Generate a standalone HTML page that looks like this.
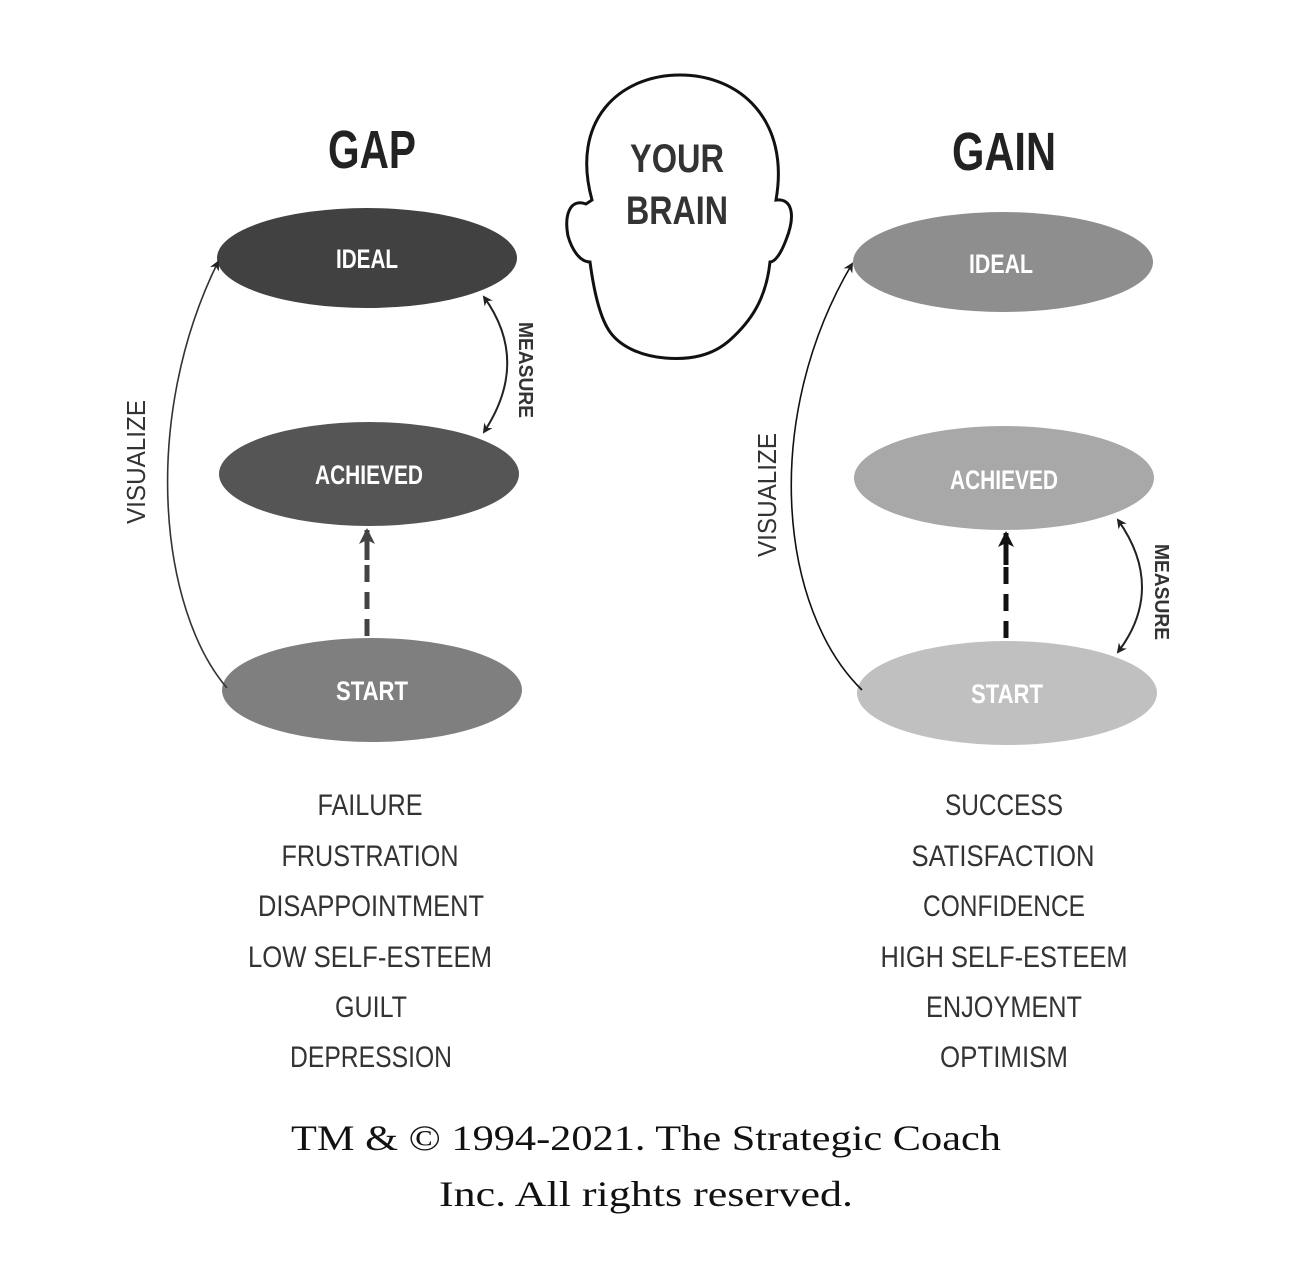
<!DOCTYPE html>
<html><head><meta charset="utf-8"><style>body{margin:0;background:#fff}svg{display:block}</style></head>
<body>
<svg width="1292" height="1279" viewBox="0 0 1292 1279" xmlns="http://www.w3.org/2000/svg">
<defs>
<marker id="ah" markerWidth="10" markerHeight="10" refX="8" refY="5" orient="auto" markerUnits="userSpaceOnUse"><path d="M0,0 L10,5 L0,10 L3,5 z" fill="#222"/></marker>
<marker id="ahs" markerWidth="10" markerHeight="10" refX="8" refY="5" orient="auto-start-reverse" markerUnits="userSpaceOnUse"><path d="M0,0 L10,5 L0,10 L3,5 z" fill="#222"/></marker>
<marker id="ahb" markerWidth="18" markerHeight="18" refX="14" refY="9" orient="auto" markerUnits="userSpaceOnUse"><path d="M0,1 L16,9 L0,17 L4,9 z" fill="#444"/></marker>
<marker id="ahk" markerWidth="18" markerHeight="18" refX="14" refY="9" orient="auto" markerUnits="userSpaceOnUse"><path d="M0,1 L16,9 L0,17 L4,9 z" fill="#111"/></marker>
</defs>
<g font-family="'Liberation Sans Narrow','Liberation Sans',sans-serif" text-anchor="middle">
<path d="M592,200 C570,120 620,75 680,75 C740,75 790,120 776,200 C792,198 796,215 786,240 C780,256 774,262 770,262 C766,300 750,322 730,340 C712,356 690,360 665,358 C640,356 620,346 610,332 C600,318 594,292 590,262 C580,262 572,250 568,236 C564,215 570,198 586,204 Z" fill="none" stroke="#111" stroke-width="3"/>
<text x="677" y="172" font-size="40" font-weight="bold" fill="#333" textLength="94" lengthAdjust="spacingAndGlyphs">YOUR</text>
<text x="677" y="224" font-size="40" font-weight="bold" fill="#333" textLength="102" lengthAdjust="spacingAndGlyphs">BRAIN</text>
<text x="372" y="168" font-size="54" font-weight="bold" fill="#222" textLength="88" lengthAdjust="spacingAndGlyphs">GAP</text>
<ellipse cx="367" cy="258" rx="150" ry="50" fill="#414141"/>
<ellipse cx="369" cy="474" rx="150" ry="52" fill="#555"/>
<ellipse cx="372" cy="690" rx="150" ry="52" fill="#7f7f7f"/>
<g font-weight="bold" font-size="27" fill="#fff">
<text x="367" y="268" textLength="62" lengthAdjust="spacingAndGlyphs">IDEAL</text>
<text x="369" y="484" textLength="108" lengthAdjust="spacingAndGlyphs">ACHIEVED</text>
<text x="372" y="700" textLength="72" lengthAdjust="spacingAndGlyphs">START</text>
<text x="1001" y="273" textLength="64" lengthAdjust="spacingAndGlyphs">IDEAL</text>
<text x="1004" y="489" textLength="108" lengthAdjust="spacingAndGlyphs">ACHIEVED</text>
<text x="1007" y="703" textLength="72" lengthAdjust="spacingAndGlyphs">START</text>
</g>
<path d="M227,688 C160,610 140,420 218,262" fill="none" stroke="#333" stroke-width="1.6" marker-end="url(#ah)"/>
<path d="M484,297 C515,340 515,385 484,432" fill="none" stroke="#222" stroke-width="2" marker-start="url(#ahs)" marker-end="url(#ah)"/>
<line x1="367" y1="636" x2="367" y2="540" stroke="#444" stroke-width="5" stroke-dasharray="17,10"/>
<line x1="367" y1="560" x2="367" y2="530" stroke="#444" stroke-width="5" marker-end="url(#ahb)"/>
<text transform="translate(145,462) rotate(-90)" font-size="26" fill="#333" textLength="124" lengthAdjust="spacingAndGlyphs">VISUALIZE</text>
<text transform="translate(519,370) rotate(90)" font-size="20" font-weight="bold" fill="#333" textLength="96" lengthAdjust="spacingAndGlyphs">MEASURE</text>
<text x="1004" y="170" font-size="54" font-weight="bold" fill="#222" textLength="104" lengthAdjust="spacingAndGlyphs">GAIN</text>
<ellipse cx="1003" cy="262" rx="150" ry="50" fill="#8e8e8e"/>
<ellipse cx="1004" cy="478" rx="150" ry="52" fill="#a8a8a8"/>
<ellipse cx="1007" cy="693" rx="150" ry="52" fill="#c0c0c0"/>
<g font-weight="bold" font-size="27" fill="#fff">
<text x="1001" y="273" textLength="64" lengthAdjust="spacingAndGlyphs">IDEAL</text>
<text x="1004" y="489" textLength="108" lengthAdjust="spacingAndGlyphs">ACHIEVED</text>
<text x="1007" y="703" textLength="72" lengthAdjust="spacingAndGlyphs">START</text>
</g>
<path d="M862,690 C780,610 760,420 852,264" fill="none" stroke="#111" stroke-width="1.6" marker-end="url(#ah)"/>
<path d="M1118,520 C1150,565 1150,610 1118,652" fill="none" stroke="#222" stroke-width="2" marker-start="url(#ahs)" marker-end="url(#ah)"/>
<line x1="1006" y1="638" x2="1006" y2="545" stroke="#111" stroke-width="5" stroke-dasharray="17,10"/>
<line x1="1006" y1="565" x2="1006" y2="533" stroke="#111" stroke-width="5" marker-end="url(#ahk)"/>
<text transform="translate(776,495) rotate(-90)" font-size="26" fill="#333" textLength="124" lengthAdjust="spacingAndGlyphs">VISUALIZE</text>
<text transform="translate(1155,592) rotate(90)" font-size="20" font-weight="bold" fill="#333" textLength="96" lengthAdjust="spacingAndGlyphs">MEASURE</text>
<g font-size="30" fill="#333" lengthAdjust="spacingAndGlyphs">
<text x="370" y="815" textLength="105" lengthAdjust="spacingAndGlyphs">FAILURE</text>
<text x="370" y="866" textLength="177" lengthAdjust="spacingAndGlyphs">FRUSTRATION</text>
<text x="371" y="916" textLength="226" lengthAdjust="spacingAndGlyphs">DISAPPOINTMENT</text>
<text x="370" y="967" textLength="244" lengthAdjust="spacingAndGlyphs">LOW SELF-ESTEEM</text>
<text x="371" y="1017" textLength="72" lengthAdjust="spacingAndGlyphs">GUILT</text>
<text x="371" y="1067" textLength="162" lengthAdjust="spacingAndGlyphs">DEPRESSION</text>
<text x="1004" y="815" textLength="118" lengthAdjust="spacingAndGlyphs">SUCCESS</text>
<text x="1003" y="866" textLength="183" lengthAdjust="spacingAndGlyphs">SATISFACTION</text>
<text x="1004" y="916" textLength="162" lengthAdjust="spacingAndGlyphs">CONFIDENCE</text>
<text x="1004" y="967" textLength="247" lengthAdjust="spacingAndGlyphs">HIGH SELF-ESTEEM</text>
<text x="1004" y="1017" textLength="156" lengthAdjust="spacingAndGlyphs">ENJOYMENT</text>
<text x="1004" y="1067" textLength="128" lengthAdjust="spacingAndGlyphs">OPTIMISM</text>
</g>
</g>
<g font-family="'Liberation Serif',serif" font-size="36" fill="#111" text-anchor="middle">
<text x="646" y="1150" textLength="710" lengthAdjust="spacingAndGlyphs">TM &amp; © 1994-2021. The Strategic Coach</text>
<text x="646" y="1206" textLength="414" lengthAdjust="spacingAndGlyphs">Inc. All rights reserved.</text>
</g>
</svg>
</body></html>
